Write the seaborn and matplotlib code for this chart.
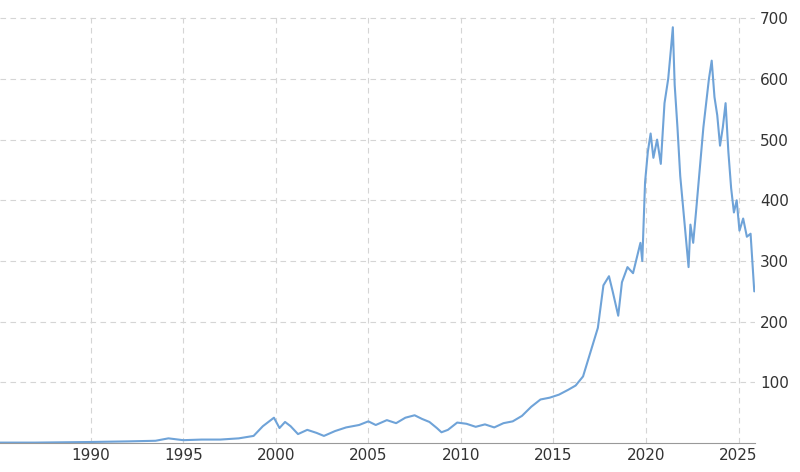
import matplotlib
matplotlib.use("Agg")
import matplotlib.pyplot as plt
import seaborn as sns
import pandas as pd

# approximate share price
years = [1985.1, 1987, 1990, 1992, 1993.5, 1994.2, 1995, 1996, 1997, 1998, 1998.8, 1999.3, 1999.6,
         1999.9, 2000.2, 2000.5, 2000.8, 2001.2, 2001.7, 2002.2, 2002.6, 2003.2, 2003.8, 2004.5,
         2005.0, 2005.4, 2006.0, 2006.5, 2007.0, 2007.5, 2007.9, 2008.3, 2008.7, 2008.95, 2009.3,
         2009.8, 2010.3, 2010.8, 2011.3, 2011.8, 2012.3, 2012.8, 2013.3, 2013.8, 2014.3, 2014.8,
         2015.3, 2015.8, 2016.2, 2016.6, 2017.0, 2017.4, 2017.7, 2018.0, 2018.2, 2018.5, 2018.7,
         2019.0, 2019.3, 2019.5, 2019.7, 2019.8, 2019.95, 2020.1, 2020.25, 2020.4, 2020.6, 2020.8,
         2021.0, 2021.2, 2021.35, 2021.45, 2021.55, 2021.7, 2021.85, 2022.0, 2022.15, 2022.3,
         2022.4, 2022.55, 2022.7, 2022.9, 2023.1, 2023.25, 2023.4, 2023.55, 2023.7, 2023.85,
         2024.0, 2024.15, 2024.3, 2024.45, 2024.6, 2024.75, 2024.9, 2025.05, 2025.25, 2025.45,
         2025.65, 2025.85]
prices = [1, 1, 2, 3, 4, 8, 5, 6, 6, 8, 12, 28, 35, 42, 25, 35, 28, 15, 22, 17, 12, 20, 26, 30,
          36, 30, 38, 33, 42, 46, 40, 35, 25, 18, 22, 34, 32, 27, 31, 26, 33, 36, 45, 60, 72, 75,
          80, 88, 95, 110, 150, 190, 260, 275, 250, 210, 265, 290, 280, 305, 330, 300, 430, 480,
          510, 470, 500, 460, 560, 600, 650, 685, 590, 520, 440, 390, 340, 290, 360, 330, 380,
          450, 520, 560, 600, 630, 570, 540, 490, 520, 560, 480, 420, 380, 400, 350, 370, 340,
          345, 250]

df = pd.DataFrame({"year": years, "price": prices})

sns.set_style("white")
fig = plt.figure(figsize=(8, 4.72), dpi=100)
ax = fig.add_axes([0.0, 0.061, 0.944, 0.907])

sns.lineplot(data=df, x="year", y="price", ax=ax, color="#6fa3d8", linewidth=1.5)

ax.set_xlim(1985.1, 2025.9)
ax.set_ylim(0, 705)
ax.set_xticks([1990, 1995, 2000, 2005, 2010, 2015, 2020, 2025])
ax.set_yticks([100, 200, 300, 400, 500, 600, 700])
ax.yaxis.tick_right()
ax.tick_params(labelsize=11, colors="#333333", length=0)
ax.grid(True, color="#d5d5d5", linestyle=(0, (5, 4)), linewidth=0.8)
ax.set_xlabel("")
ax.set_ylabel("")
for s in ["top", "left", "right"]:
    ax.spines[s].set_visible(False)
ax.spines["bottom"].set_color("#999999")

fig.savefig("out.png", dpi=100)
